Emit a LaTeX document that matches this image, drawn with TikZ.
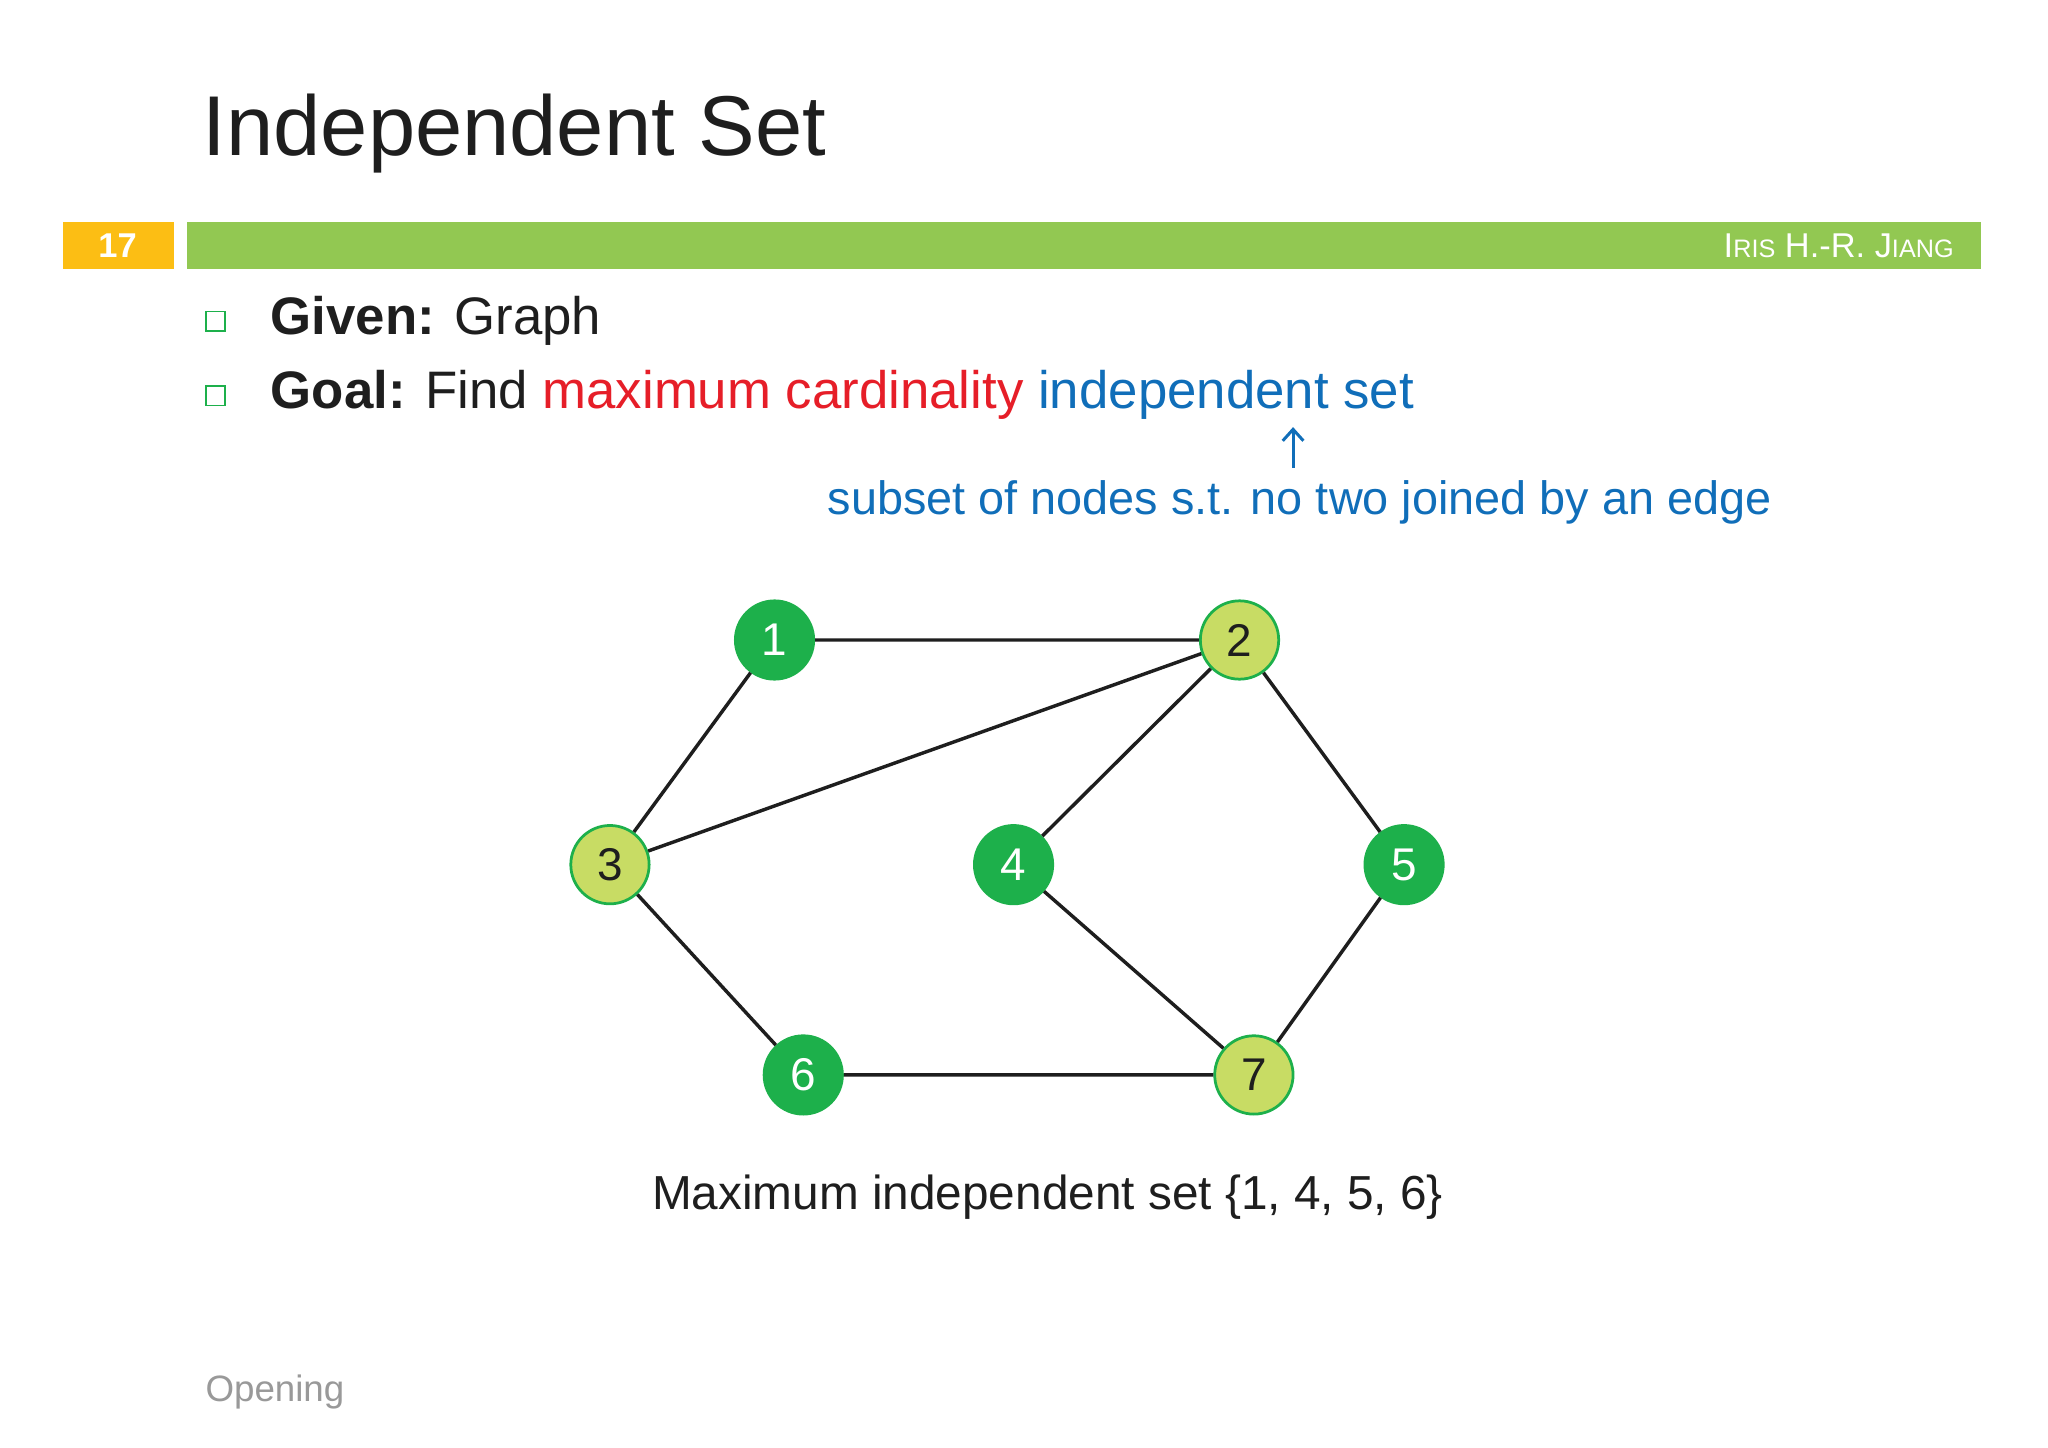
\documentclass[tikz,border=0pt]{standalone}
\usepackage{fontspec}
\setmainfont{Liberation Sans}
\usetikzlibrary{arrows.meta}
\definecolor{dg}{RGB}{29,176,75}
\definecolor{lg}{RGB}{200,220,100}
\definecolor{bar}{RGB}{146,200,82}
\definecolor{org}{RGB}{252,190,20}
\definecolor{myblue}{RGB}{16,110,185}
\definecolor{myred}{RGB}{230,30,40}
\definecolor{txt}{RGB}{30,30,30}
\tikzset{
  vtx/.style={circle,minimum size=1.2cm,inner sep=0pt,font=\fontsize{20}{24}\selectfont,line width=1.2pt},
  dark/.style={vtx,fill=dg,draw=dg,text=white},
  light/.style={vtx,fill=lg,draw=dg,text=txt},
  edge/.style={line width=1.5pt,txt},
  bul/.style={draw=dg,line width=0.8pt,minimum size=0.3cm,inner sep=0pt}
}
\begin{document}
\begin{tikzpicture}[x=0.02cm,y=-0.02cm]
\useasboundingbox (0,0) rectangle (1568,1108);
\fill[white] (0,0) rectangle (1568,1108);
\node[anchor=base west,inner sep=0,text=txt,font=\fontsize{37}{44}\selectfont] (title) at (155,119) {Independent Set};
\fill[bar] (143,170) rectangle (1517,206);
\fill[org] (48,170) rectangle (133,206);
\node[text=white,font=\fontsize{15}{18}\selectfont\bfseries] (num) at (90,188) {17};
\node[anchor=east,text=white,font=\fontsize{15}{18}\selectfont] (auth) at (1502,188) {I{\fontsize{11}{13}\selectfont RIS} H.-R. J{\fontsize{11}{13}\selectfont IANG}};
\node[bul] (b1) at (165,246) {};
\node[bul] (b2) at (165,303) {};
\node[anchor=base west,inner sep=0,text=txt,font=\fontsize{23}{28}\selectfont] (given) at (207,256) {\textbf{Given:} Graph};
\node[anchor=base west,inner sep=0,text=txt,font=\fontsize{23}{28}\selectfont] (goal) at (207,313) {\textbf{Goal:} Find \textcolor{myred}{maximum cardinality} \textcolor{myblue}{independent set}};
\node[anchor=base,inner sep=0,text=myblue,font=\fontsize{20.4}{24}\selectfont] (sub) at (995,394) {subset of nodes s.t. no two joined by an edge};
\coordinate (a1) at (990,358);
\coordinate (a2) at (990,327);
\draw[myblue,line width=1.3pt,-{Straight Barb[length=5pt,width=9pt]}] (a1) -- (a2);
\node[dark] (n1) at (593,490) {1};
\node[light] (n2) at (949,490) {2};
\node[light] (n3) at (467,662) {3};
\node[dark] (n4) at (776,662) {4};
\node[dark] (n5) at (1075,662) {5};
\node[dark] (n6) at (615,823) {6};
\node[light] (n7) at (960,823) {7};
\draw[edge] (n1)--(n2) (n1)--(n3) (n3)--(n2) (n2)--(n4) (n2)--(n5) (n3)--(n6) (n6)--(n7) (n4)--(n7) (n5)--(n7);
\node[anchor=base,inner sep=0,text=txt,font=\fontsize{20.8}{24}\selectfont] (cap) at (802,926) {Maximum independent set \{1, 4, 5, 6\}};
\node[anchor=base west,inner sep=0,text=gray!80,font=\fontsize{16}{19}\selectfont] (open) at (157,1073) {Opening};
\end{tikzpicture}
\end{document}
